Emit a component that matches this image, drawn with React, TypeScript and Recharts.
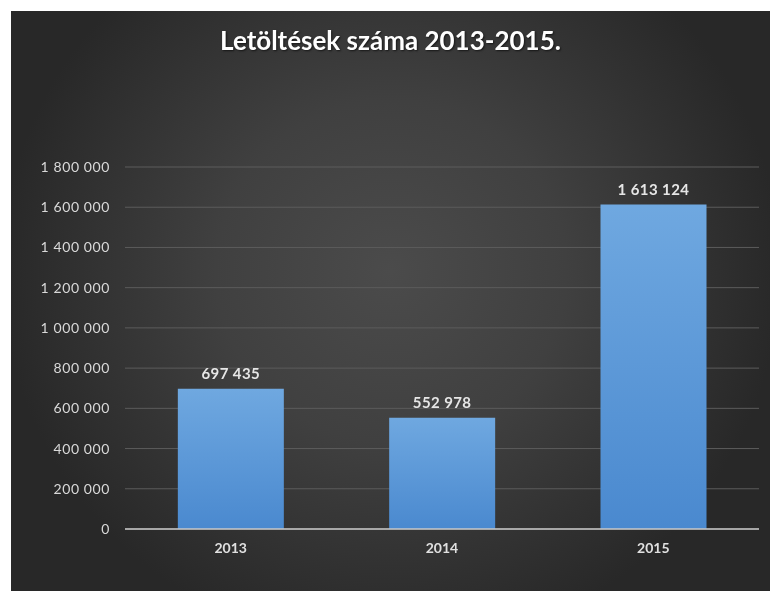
import React from 'react'
import { BarChart, Bar, XAxis, YAxis, CartesianGrid, LabelList } from 'recharts'

const evek = ['2013', '2014', '2015']
const letoltesek = [697435, 552978, 1613124]
const yTicks = [0, 200000, 400000, 600000, 800000, 1000000, 1200000, 1400000, 1600000, 1800000]

const chartData = evek.map((ev, i) => ({ ev, value: letoltesek[i] }))

const formatSzam = (v: number) => String(v).replace(/\B(?=(\d{3})+(?!\d))/g, ' ')

const FONT = 'Lato, "Open Sans", sans-serif'

export default function App() {
  return (
    <div
      style={{
        position: 'fixed',
        left: 11,
        top: 11,
        width: 780,
        height: 600,
        background: 'radial-gradient(ellipse 390px 380px at 380px 260px, #4b4b4b 0%, #404040 45%, #282828 100%)',
        fontFamily: FONT,
      }}
    >
      <div
        style={{
          position: 'absolute',
          top: 13,
          left: 0,
          width: 759,
          textAlign: 'center',
          color: '#ffffff',
          fontWeight: 700,
          fontSize: 26,
          textShadow: '1px 1px 2px rgba(0,0,0,0.6)',
        }}
      >
        Letöltések száma 2013-2015.
      </div>
      <BarChart
        width={759}
        height={580}
        data={chartData}
        margin={{ top: 156, right: 11, left: 0, bottom: 32 }}
        barCategoryGap="25%"
      >
        <defs>
          <linearGradient id="oszlopSzin" x1="0" y1="0" x2="0" y2="1">
            <stop offset="0%" stopColor="#6fa8e0" />
            <stop offset="100%" stopColor="#4a89cf" />
          </linearGradient>
        </defs>
        <CartesianGrid vertical={false} stroke="#5c5c5c" strokeWidth={1} />
        <XAxis
          dataKey="ev"
          axisLine={{ stroke: '#c8c8c8', strokeWidth: 1.5 }}
          tickLine={false}
          tickSize={0}
          tickMargin={14}
          height={30}
          tick={{ fill: '#e0e0e0', fontSize: 14, fontWeight: 700, fontFamily: FONT }}
        />
        <YAxis
          domain={[0, 1800000]}
          ticks={yTicks}
          interval={0}
          width={114}
          axisLine={false}
          tickLine={false}
          tickSize={0}
          tickMargin={15}
          tickFormatter={formatSzam}
          tick={{ fill: '#d9d9d9', fontSize: 14, letterSpacing: 0.6, fontFamily: FONT }}
        />
        <Bar dataKey="value" fill="url(#oszlopSzin)" isAnimationActive={false}>
          <LabelList
            dataKey="value"
            position="top"
            offset={10}
            formatter={(v: any) => formatSzam(Number(v))}
            style={{ fill: '#e6e6e6', fontSize: 15, fontWeight: 700, letterSpacing: 0.4, fontFamily: FONT }}
          />
        </Bar>
      </BarChart>
    </div>
  )
}
